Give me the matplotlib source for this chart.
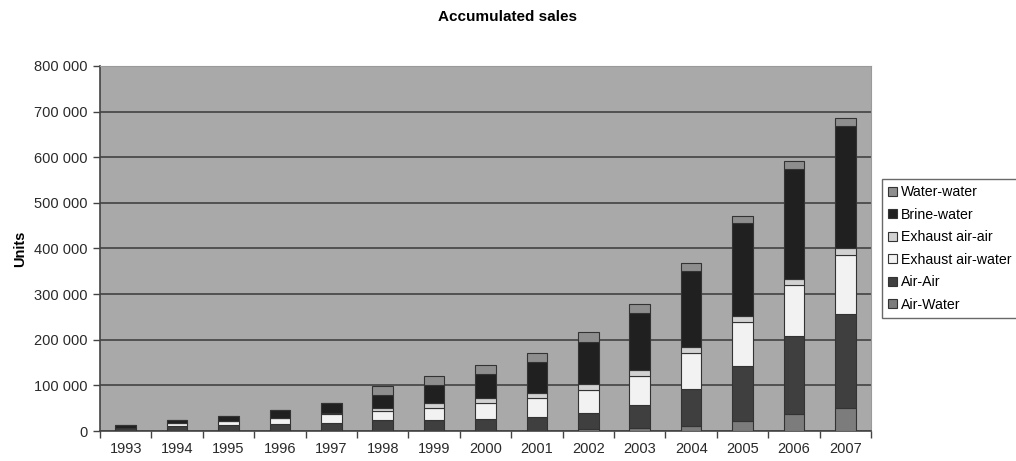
import matplotlib.pyplot as plt
import numpy as np

plt.rcParams['font.family'] = ['Liberation Sans', 'DejaVu Sans']

years = ['1993', '1994', '1995', '1996', '1997', '1998', '1999', '2000',
         '2001', '2002', '2003', '2004', '2005', '2006', '2007']

# accumulated units per heat pump type (bottom of stack first)
air_water = [0, 0, 0, 0, 0, 0, 0, 0, 1000, 4000, 6000, 11000, 23000, 37000, 51000]
air_air = [6000, 12000, 13000, 15000, 17000, 24000, 24000, 27000, 29000, 35000,
           51000, 81000, 120000, 171000, 205000]
exhaust_air_water = [0, 6000, 10000, 14000, 20000, 20000, 27000, 35000, 43000,
                     52000, 64000, 80000, 96000, 113000, 130000]
exhaust_air_air = [0, 0, 0, 0, 2000, 7000, 10000, 10000, 11000, 12000, 13000,
                   13000, 12000, 13000, 14000]
brine_water = [7000, 6000, 10000, 17000, 23000, 29000, 39000, 54000, 67000, 93000,
               124000, 166000, 204000, 241000, 269000]
water_water = [0, 0, 0, 0, 0, 18000, 20000, 19000, 19000, 20000, 20000, 18000,
               16000, 17000, 17000]

series = [
    ('Air-Water', air_water, '#7c7c7c'),
    ('Air-Air', air_air, '#3f3f3f'),
    ('Exhaust air-water', exhaust_air_water, '#f2f2f2'),
    ('Exhaust air-air', exhaust_air_air, '#d2d2d2'),
    ('Brine-water', brine_water, '#202020'),
    ('Water-water', water_water, '#8e8e8e'),
]

fig = plt.figure(figsize=(10.16, 4.61), dpi=100)
ax = fig.add_axes([0.0984, 0.065, 0.759, 0.792])
ax.set_facecolor('#a9a9a9')

x = np.arange(len(years))
bottom = np.zeros(len(years))
handles = []
for name, vals, col in series:
    vals = np.array(vals, dtype=float)
    b = ax.bar(x, vals, 0.4, bottom=bottom, color=col, edgecolor='#333333',
               linewidth=0.8, label=name, zorder=3)
    handles.append(b)
    bottom += vals

ax.set_xlim(-0.5, len(years) - 0.5)
ax.set_ylim(0, 800000)
ax.set_yticks(np.arange(0, 800001, 100000))
ax.set_yticklabels(['0' if v == 0 else '{:,}'.format(v).replace(',', ' ')
                    for v in range(0, 800001, 100000)], fontsize=10.5, color='#2a2a2a')
ax.yaxis.grid(True, color='#4a4a4a', linewidth=1.3, zorder=1)
ax.set_axisbelow(True)

# category labels centred, tick marks on the boundaries
ax.set_xticks(x)
ax.set_xticklabels(years, fontsize=10.5, color='#2a2a2a')
ax.tick_params(axis='x', length=0, pad=8)
ax.set_xticks(np.arange(-0.5, len(years)), minor=True)
ax.tick_params(axis='x', which='minor', length=5, width=1, color='#444444')
ax.tick_params(axis='y', length=5, width=1, color='#444444', pad=4)

for s in ['top', 'right']:
    ax.spines[s].set_color('#9a9a9a')
    ax.spines[s].set_linewidth(0.8)
for s in ['left', 'bottom']:
    ax.spines[s].set_color('#444444')
    ax.spines[s].set_linewidth(1.2)

ax.set_ylabel('Units', fontsize=10.5, fontweight='bold', labelpad=5)
fig.suptitle('Accumulated sales', fontsize=11, fontweight='bold', y=0.978)

leg = fig.legend(handles[::-1], [s[0] for s in series][::-1],
                 loc='upper left', bbox_to_anchor=(0.868, 0.612),
                 borderaxespad=0, fontsize=10.2, frameon=True, fancybox=False,
                 handlelength=0.65, handleheight=0.65, handletextpad=0.25,
                 labelspacing=0.6, borderpad=0.45)
leg.get_frame().set_edgecolor('#444444')
leg.get_frame().set_linewidth(1.0)

fig.savefig('out.png', dpi=100, facecolor='white')
